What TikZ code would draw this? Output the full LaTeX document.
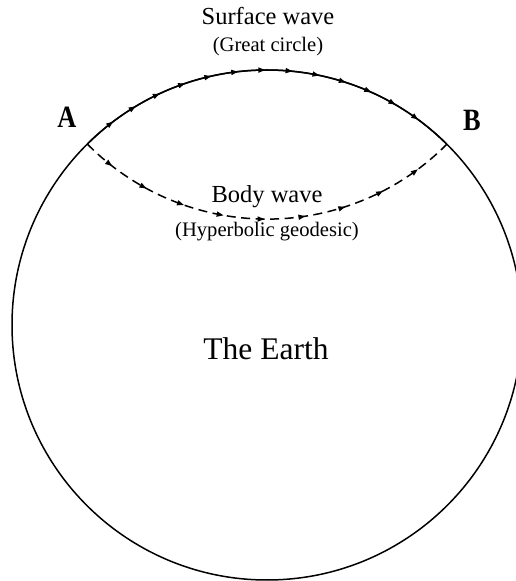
\documentclass[tikz,border=0pt]{standalone}
\usepackage{fontspec}
\setmainfont{Liberation Serif}
\usetikzlibrary{decorations.markings,arrows.meta,calc}
\tikzset{wavetip/.tip={Triangle[length=7pt,width=5pt]}}
\begin{document}
\begin{tikzpicture}[x=1pt,y=1pt,
  earth/.style={line width=1.5pt},
  title/.style={anchor=base,inner sep=0pt,font=\fontsize{24.5}{28}\selectfont},
  subtitle/.style={anchor=base,inner sep=0pt,font=\fontsize{20.6}{24}\selectfont},
  pointlabel/.style={anchor=base,inner sep=0pt,font=\fontsize{31}{33}\selectfont\bfseries},
  surfacepath/.style={line width=1.5pt,postaction={decorate},
    decoration={markings,
      mark=between positions 0.086 and 0.91 step 0.0683 with {\arrow{wavetip}}}},
  bodypath/.style={line width=1.5pt,dash pattern=on 9pt off 5.5pt,postaction={decorate},
    decoration={markings,
      mark=between positions 0.083 and 0.91 step 0.1026 with {\arrow[solid]{wavetip}}}}
]
\useasboundingbox (0,0) rectangle (516,581);
% Earth
\coordinate (O) at (267,256);
\draw[earth] (O) circle[radius=255];
% end points on the circle
\coordinate (A) at ($(O)+(134.8:255)$);
\coordinate (B) at ($(O)+(45.2:255)$);
\node[pointlabel] (la) at (67,453) {\scalebox{0.85}[1]{A}};
\node[pointlabel] (lb) at (472,450) {\scalebox{0.85}[1]{B}};
% surface wave along the great circle
\draw[surfacepath] (A) arc[start angle=134.8,end angle=45.2,radius=255];
% body wave along the hyperbolic geodesic
\draw[bodypath] (A) arc[start angle=224.7,end angle=315.3,radius=253];
% labels
\node[title] (sw) at (268,556) {Surface wave};
\node[subtitle] (gc) at (268,529) {(Great circle)};
\node[title] (bw) at (267,378) {Body wave};
\node[subtitle] (hg) at (267,344) {(Hyperbolic geodesic)};
\node[anchor=base,inner sep=0pt,font=\fontsize{31.5}{36}\selectfont] (earth) at (266,221) {The Earth};
\end{tikzpicture}
\end{document}
